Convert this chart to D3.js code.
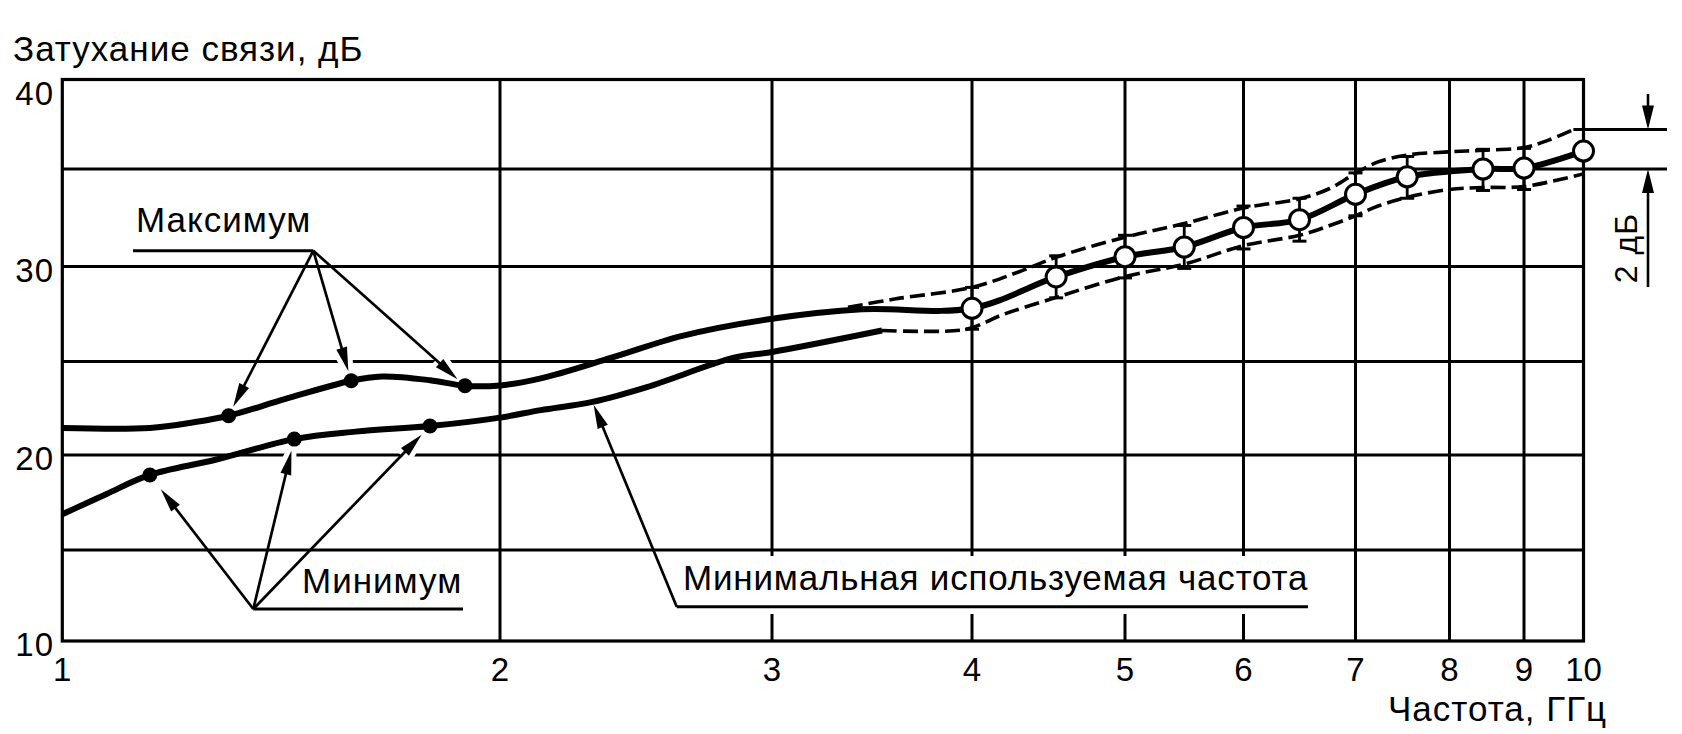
<!DOCTYPE html>
<html><head><meta charset="utf-8">
<script src="https://cdn.jsdelivr.net/npm/d3@7"></script>
<style>
html,body{margin:0;padding:0;background:#fff;}
svg{display:block;}
text{font-family:"Liberation Sans", Arial, Helvetica, sans-serif; fill:#000;}
</style></head><body>
<svg id="chart" width="1682" height="734"></svg>
<script>
// ---------------- data ----------------
const freqTicks = [1, 2, 3, 4, 5, 6, 7, 8, 9, 10];
const dbGrid = [10, 15, 20, 25, 30, 35, 40];
const dbLabels = [10, 20, 30, 40];

// "Максимум" curve (solid, thick)
const maxFreq = [1.0, 1.2, 1.3, 1.38, 1.51, 1.66, 1.73, 1.84, 1.92, 2.0, 2.15, 2.41, 2.67, 3.0, 3.45, 4.0];
const maxDb   = [21.45, 21.45, 21.75, 22.1, 23.0, 23.97, 24.2, 24.0, 23.7, 23.72, 24.1, 25.2, 26.35, 27.25, 27.75, 27.8];
// "Минимум" curve (solid, thick)
const minFreq = [1.0, 1.1, 1.2, 1.35, 1.53, 1.67, 1.84, 2.0, 2.15, 2.34, 2.54, 2.86, 3.0, 3.55];
const minDb   = [16.88, 17.94, 18.95, 19.75, 20.85, 21.25, 21.55, 22.0, 22.4, 22.84, 23.63, 25.2, 25.5, 26.63];
// marked points on the curves
const maxDotFreq = [1.38, 1.66, 1.92];
const maxDotDb   = [22.1, 23.97, 23.7];
const minDotFreq = [1.2, 1.53, 1.84];
const minDotDb   = [18.95, 20.85, 21.55];
// measured points (open circles) with spread
const measFreq = [4.0, 4.55, 5.0, 5.5, 6.0, 6.5, 7.0, 7.55, 8.45, 9.0, 10.0];
const measDb   = [27.8, 29.45, 30.5, 31.0, 32.0, 32.4, 33.7, 34.6, 35.0, 35.05, 36.0];
const measErr  = [1.1, 1.1, 1.1, 1.1, 1.1, 1.1, 1.1, 1.1, 1.1, 1.1, 0];
// dashed band limits
const upperFreq = [3.38, 3.62, 4.0, 4.3, 4.56, 5.0, 5.5, 6.0, 6.5, 6.77, 7.0, 7.24, 7.55, 8.0, 8.45, 9.0, 9.4, 9.83];
const upperDb   = [27.85, 28.3, 28.9, 29.7, 30.5, 31.5, 32.2, 33.0, 33.47, 34.0, 34.78, 35.4, 35.78, 35.96, 36.05, 36.2, 36.6, 37.2];
const lowerFreq = [3.55, 3.96, 4.09, 4.18, 4.56, 5.0, 5.5, 6.0, 6.5, 6.77, 7.0, 7.24, 7.55, 8.0, 8.45, 9.0, 10.0];
const lowerDb   = [26.63, 26.67, 27.07, 27.4, 28.4, 29.47, 30.12, 31.07, 31.6, 32.1, 32.6, 33.1, 33.55, 33.95, 34.05, 34.1, 34.75];
// "2 дБ" dimension: from 35 dB to the upper level
const dimLow = 35, dimHigh = 37.2;

const texts = {
  yTitle: "Затухание связи, дБ",
  xTitle: "Частота, ГГц",
  maxLabel: "Максимум",
  minLabel: "Минимум",
  mufLabel: "Минимальная используемая частота",
  dimLabel: "2 дБ"
};
const mufArrowFreq = 2.34, mufArrowDb = 22.84;

// ---------------- layout ----------------
const xTickPx = [62.3, 500, 772, 972, 1125, 1243.5, 1355.5, 1449.5, 1524, 1583.5];
const yTickPx = [641, 550, 455, 361.5, 266.5, 169, 79.5];
const FS = 35, LS = 1;

const x = d3.scaleLinear().domain(freqTicks).range(xTickPx);
const y = d3.scaleLinear().domain(dbGrid).range(yTickPx);

const svg = d3.select("#chart");
const gGrid = svg.append("g");
const gHalo = svg.append("g");
const gBox = svg.append("g");
const gCurve = svg.append("g");
const gAnn = svg.append("g");
const gMark = svg.append("g");
const gText = svg.append("g");

const X0 = x(1), X1 = x(10), Y0 = y(10), Y1 = y(40);

// horizontal gridlines
gGrid.selectAll("line.h").data(dbGrid.filter(d => d > 10 && d < 40)).join("line")
  .attr("x1", X0).attr("x2", d => d === 35 ? 1667 : X1)
  .attr("y1", d => y(d)).attr("y2", d => y(d))
  .attr("stroke", "#000").attr("stroke-width", 3);
// vertical gridlines
gGrid.selectAll("line.v").data(freqTicks.filter(d => d > 1 && d < 10)).join("line")
  .attr("x1", d => x(d)).attr("x2", d => x(d))
  .attr("y1", Y1).attr("y2", Y0)
  .attr("stroke", "#000").attr("stroke-width", 3);
// frame
gGrid.append("rect").attr("x", X0).attr("y", Y1).attr("width", X1 - X0).attr("height", Y0 - Y1)
  .attr("fill", "none").attr("stroke", "#000").attr("stroke-width", 3.2);

// ---------------- curves ----------------
const line = d3.line().x(d => x(d[0])).y(d => y(d[1])).curve(d3.curveCatmullRom.alpha(0.5));
const zip = (a, b) => a.map((v, i) => [v, b[i]]);

gCurve.append("path").attr("d", line(zip(maxFreq, maxDb).concat(zip(measFreq, measDb).slice(1))))
  .attr("fill", "none").attr("stroke", "#000").attr("stroke-width", 6).attr("stroke-linejoin", "round");
gCurve.append("path").attr("d", line(zip(minFreq, minDb)))
  .attr("fill", "none").attr("stroke", "#000").attr("stroke-width", 6).attr("stroke-linecap", "butt");
gCurve.append("path").attr("d", line(zip(upperFreq, upperDb)))
  .attr("fill", "none").attr("stroke", "#000").attr("stroke-width", 3.6).attr("stroke-dasharray", "15,6");
gCurve.append("path").attr("d", line(zip(lowerFreq, lowerDb)))
  .attr("fill", "none").attr("stroke", "#000").attr("stroke-width", 3.6).attr("stroke-dasharray", "15,6");

// dimension line on the right
gGrid.append("line").attr("x1", x(9.83)).attr("x2", 1667).attr("y1", y(dimHigh)).attr("y2", y(dimHigh))
  .attr("stroke", "#000").attr("stroke-width", 3);

// ---------------- arrows ----------------
function arrow(x0, y0, x1, y1, back, L = 24, W = 5.5) {
  const dx = x1 - x0, dy = y1 - y0, len = Math.hypot(dx, dy);
  const ux = dx / len, uy = dy / len, nx = -uy, ny = ux;
  const tx = x1 - ux * back, ty = y1 - uy * back;
  const bx = tx - ux * L, by = ty - uy * L;
  const pts = [[tx, ty], [bx + nx * W, by + ny * W], [bx - nx * W, by - ny * W]];
  gHalo.append("polygon").attr("points", pts.map(p => p.join(",")).join(" "))
    .attr("fill", "#fff").attr("stroke", "#fff").attr("stroke-width", 10).attr("stroke-linejoin", "round");
  gAnn.append("line").attr("x1", x0).attr("y1", y0).attr("x2", bx + ux * 4).attr("y2", by + uy * 4)
    .attr("stroke", "#000").attr("stroke-width", 2.7);
  gAnn.append("polygon").attr("points", pts.map(p => p.join(",")).join(" ")).attr("fill", "#000");
}

// label: Максимум
const maxApex = [313.3, 250.7];
gAnn.append("line").attr("x1", 133).attr("x2", maxApex[0]).attr("y1", maxApex[1]).attr("y2", maxApex[1])
  .attr("stroke", "#000").attr("stroke-width", 3);
maxDotFreq.forEach((f, i) => arrow(maxApex[0], maxApex[1], x(f), y(maxDotDb[i]), 10));
gText.append("text").attr("x", 136).attr("y", 232).attr("font-size", FS).attr("letter-spacing", LS).text(texts.maxLabel);

// label: Минимум
const minApex = [253.3, 609];
gAnn.append("line").attr("x1", minApex[0]).attr("x2", 463).attr("y1", minApex[1]).attr("y2", minApex[1])
  .attr("stroke", "#000").attr("stroke-width", 3);
minDotFreq.forEach((f, i) => arrow(minApex[0], minApex[1], x(f), y(minDotDb[i]), i === 0 ? 18 : 12));
gText.append("text").attr("x", 302).attr("y", 593).attr("font-size", FS).attr("letter-spacing", LS).text(texts.minLabel);

// label: Минимальная используемая частота
const mufApex = [676.7, 606.7];
gBox.append("rect").attr("x", 679).attr("y", 556).attr("width", 1310 - 679).attr("height", 58).attr("fill", "#fff");
gAnn.append("line").attr("x1", mufApex[0]).attr("x2", 1308).attr("y1", mufApex[1]).attr("y2", mufApex[1])
  .attr("stroke", "#000").attr("stroke-width", 3);
arrow(mufApex[0], mufApex[1], x(mufArrowFreq), y(mufArrowDb), 3);
gText.append("text").attr("x", 683).attr("y", 590).attr("font-size", FS).attr("letter-spacing", 0.8).text(texts.mufLabel);

// ---------------- markers ----------------
gMark.selectAll("circle.dot").data(zip(maxDotFreq, maxDotDb).concat(zip(minDotFreq, minDotDb))).join("circle")
  .attr("cx", d => x(d[0])).attr("cy", d => y(d[1])).attr("r", 7.5).attr("fill", "#000");

const meas = measFreq.map((f, i) => ({ f, v: measDb[i], e: measErr[i] }));
const eb = gMark.selectAll("g.eb").data(meas.filter(d => d.e > 0)).join("g");
eb.append("line").attr("x1", d => x(d.f)).attr("x2", d => x(d.f))
  .attr("y1", d => y(d.v + d.e)).attr("y2", d => y(d.v - d.e)).attr("stroke", "#000").attr("stroke-width", 2.8);
eb.append("line").attr("x1", d => x(d.f) - 7).attr("x2", d => x(d.f) + 7)
  .attr("y1", d => y(d.v + d.e)).attr("y2", d => y(d.v + d.e)).attr("stroke", "#000").attr("stroke-width", 3);
eb.append("line").attr("x1", d => x(d.f) - 7).attr("x2", d => x(d.f) + 7)
  .attr("y1", d => y(d.v - d.e)).attr("y2", d => y(d.v - d.e)).attr("stroke", "#000").attr("stroke-width", 3);
gMark.selectAll("circle.meas").data(meas).join("circle")
  .attr("cx", d => x(d.f)).attr("cy", d => y(d.v)).attr("r", 10)
  .attr("fill", "#fff").attr("stroke", "#000").attr("stroke-width", 3);

// ---------------- dimension "2 дБ" ----------------
const dimX = 1648;
function vArrow(yFrom, yTip) {
  const dir = Math.sign(yTip - yFrom);
  gAnn.append("line").attr("x1", dimX).attr("x2", dimX).attr("y1", yFrom).attr("y2", yTip - dir * 10)
    .attr("stroke", "#000").attr("stroke-width", 2.6);
  gAnn.append("polygon").attr("points",
    [[dimX, yTip], [dimX - 6, yTip - dir * 24], [dimX + 6, yTip - dir * 24]].map(p => p.join(",")).join(" "))
    .attr("fill", "#000");
}
vArrow(94, y(dimHigh));
vArrow(287, y(dimLow));
gText.append("text").attr("transform", `translate(1626,248) rotate(-90)`)
  .attr("text-anchor", "middle").attr("dominant-baseline", "central").attr("font-size", 32).attr("letter-spacing", LS).text(texts.dimLabel);

// ---------------- axis labels ----------------
gText.selectAll("text.yl").data(dbLabels).join("text")
  .attr("x", 54).attr("y", d => y(d) + (d === 40 ? 25.5 : 15)).attr("text-anchor", "end")
  .attr("font-size", 33).attr("letter-spacing", LS).text(d => d);
gText.selectAll("text.xl").data(freqTicks).join("text")
  .attr("x", d => x(d)).attr("y", 681).attr("text-anchor", "middle")
  .attr("font-size", 33).text(d => d);
gText.append("text").attr("x", 13).attr("y", 61).attr("font-size", FS).attr("letter-spacing", LS).text(texts.yTitle);
gText.append("text").attr("x", 1388).attr("y", 721).attr("font-size", FS).attr("letter-spacing", LS).text(texts.xTitle);
</script>
</body></html>
